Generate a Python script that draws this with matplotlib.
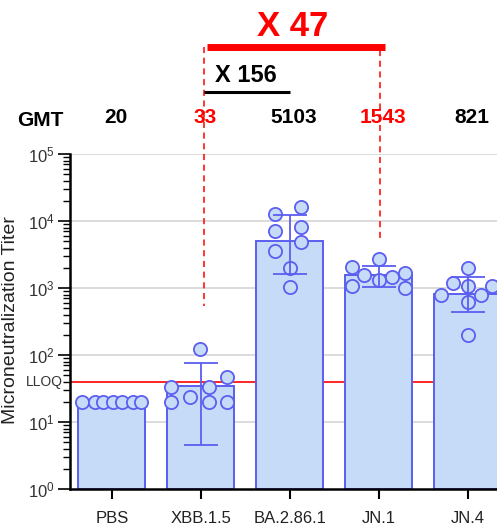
"""Microneutralization titers per variant with GMT annotations."""

import matplotlib

matplotlib.use("Agg")
import matplotlib.pyplot as plt
import matplotlib.transforms as mtransforms
from matplotlib.ticker import LogLocator, NullFormatter
import numpy as np

plt.rcParams["font.family"] = ["Liberation Sans", "DejaVu Sans"]

# --------------------------------------------------------------------- #
# Data
# --------------------------------------------------------------------- #
VARIANTS = ["PBS", "XBB.1.5", "BA.2.86.1", "JN.1", "JN.4"]
GMT = [20, 33, 5103, 1543, 821]
GMT_COLORS = ["black", "red", "black", "red", "black"]

TITERS = [
    [20, 20, 20, 20, 20, 20, 20],
    [33, 33, 47, 123, 20, 24, 20, 20],
    [12700, 16200, 7100, 8100, 4900, 3560, 2000, 1030],
    [2050, 1070, 1560, 2700, 1320, 1450, 1670, 1000],
    [1990, 1180, 1070, 790, 790, 620, 1070, 200],
]
# geometric SD range (low, high); None where all points are equal
ERR_LOW = [None, 4.6, 1620, 1030, 440]
ERR_HIGH = [None, 76, 12300, 2130, 1450]

LLOQ = 40
FOLD_XBB_BA = "X 156"
FOLD_XBB_JN1 = "X 47"

# horizontal scatter of the dots inside each bar
JITTER = [
    [-0.33, -0.19, -0.10, 0.01, 0.12, 0.24, 0.33],
    [-0.33, 0.09, 0.30, -0.01, -0.33, -0.12, 0.09, 0.30],
    [-0.16, 0.13, -0.16, 0.13, 0.13, -0.16, 0.0, 0.0],
    [-0.30, -0.30, -0.16, 0.0, 0.0, 0.15, 0.30, 0.30],
    [0.0, -0.17, 0.0, -0.30, 0.15, 0.0, 0.27, 0.0],
]

BAR_FACE = "#c6dbf7"
BAR_EDGE = "#5b5ef0"

fig = plt.figure(figsize=(4.97, 5.32), dpi=100)
ax = fig.add_axes([0.1408, 0.0808, 0.8592, 0.6297])

x = np.arange(len(VARIANTS))

# gridlines and LLOQ sit behind the bars
for dec in range(1, 6):
    ax.axhline(10 ** dec, color="#d9d9d9", lw=1.3, zorder=0)
ax.axhline(LLOQ, color="red", lw=1.2, zorder=0.5)

ax.bar(x, GMT, width=0.75, color=BAR_FACE, edgecolor=BAR_EDGE, linewidth=1.4,
       zorder=1, bottom=1)

for i, vals in enumerate(TITERS):
    ax.plot(x[i] + np.array(JITTER[i]), vals, ls="none", marker="o",
            markersize=9.5, markerfacecolor=BAR_FACE, markeredgecolor=BAR_EDGE,
            markeredgewidth=1.3, zorder=2, clip_on=False)
    if ERR_LOW[i] is not None:
        ax.errorbar(x[i], GMT[i],
                    yerr=[[GMT[i] - ERR_LOW[i]], [ERR_HIGH[i] - GMT[i]]],
                    fmt="none", ecolor=BAR_EDGE, elinewidth=1.3, capsize=12,
                    capthick=1.3, zorder=3)

ax.set_yscale("log")
ax.set_ylim(1, 1e5)
ax.set_xlim(-0.47, 4.33)
ax.yaxis.set_major_locator(LogLocator(base=10, numticks=10))
ax.yaxis.set_minor_locator(LogLocator(base=10, subs=np.arange(2, 10), numticks=10))
ax.yaxis.set_minor_formatter(NullFormatter())

ax.set_xticks(x)
ax.set_xticklabels(VARIANTS, fontsize=12, color="#222222")
ax.tick_params(axis="x", length=7, width=1.5, pad=9)
ax.tick_params(axis="y", which="major", length=9, width=1.2, labelsize=12,
               labelcolor="#333333", pad=2)
ax.tick_params(axis="y", which="minor", length=5, width=1.0)

for side in ("top", "right"):
    ax.spines[side].set_visible(False)
for side in ("left", "bottom"):
    ax.spines[side].set_linewidth(1.8)

ax.text(-0.016, LLOQ, "LLOQ", transform=mtransforms.blended_transform_factory(
    ax.transAxes, ax.transData), ha="right", va="center", fontsize=10,
    color="#333333")

fig.text(0.021, 0.398, "Microneutralization Titer", rotation=90,
         ha="center", va="center", fontsize=14, color="#222222")

# GMT row above the plot
fig.text(0.0805, 0.774, "GMT", ha="center", va="center", fontsize=15,
         fontweight="bold")
trans_xfig = mtransforms.blended_transform_factory(ax.transData, fig.transFigure)
for i, (g, c) in enumerate(zip(GMT, GMT_COLORS)):
    ax.text(x[i] + 0.05, 0.779, str(g), transform=trans_xfig, ha="center",
            va="center", fontsize=15, fontweight="bold", color=c)

# fold-change brackets: XBB.1.5 vs BA.2.86.1 and XBB.1.5 vs JN.1
xa = x[1] + 0.035
xb = x[3] + 0.02
ax.plot([xa, xa], [1 - 47 / 532, 1 - 306 / 532], transform=trans_xfig,
        color="red", ls=(0, (4, 3)), lw=1.1, clip_on=False)
ax.plot([xb, xb], [1 - 50 / 532, 1 - 238 / 532], transform=trans_xfig,
        color="red", ls=(0, (4, 3)), lw=1.1, clip_on=False)

ax.plot([xa + 0.03, xb + 0.05], [1 - 47 / 532] * 2, transform=trans_xfig,
        color="red", lw=5, solid_capstyle="butt", clip_on=False)
ax.text((xa + xb) / 2 + 0.0, 1 - 27 / 532, FOLD_XBB_JN1, transform=trans_xfig,
        ha="center", va="center", fontsize=25, fontweight="bold", color="red")

ax.plot([xa, x[2]], [1 - 92 / 532] * 2, transform=trans_xfig,
        color="black", lw=2.2, solid_capstyle="butt", clip_on=False)
ax.text(x[1] + 0.51, 1 - 76 / 532, FOLD_XBB_BA, transform=trans_xfig,
        ha="center", va="center", fontsize=17, fontweight="bold")

fig.savefig("out.png", dpi=100)
